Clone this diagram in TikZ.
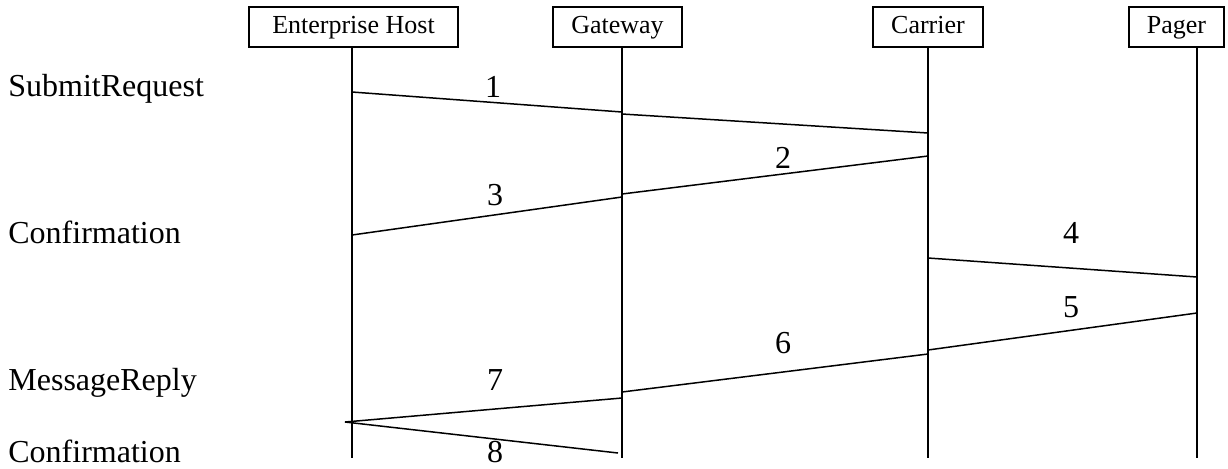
\documentclass[tikz,border=0pt]{standalone}
\usepackage{fontspec}
\setmainfont{Liberation Serif}

\tikzset{
  actor/.style={draw,line width=0.9pt,inner sep=0pt,minimum height=20pt,
    text height=9pt,text depth=3pt,font=\fontsize{13}{15}\selectfont},
  life/.style={line width=0.75pt},
  msg/.style={line width=0.75pt},
  num/.style={anchor=base,inner sep=0pt,font=\fontsize{16}{18}\selectfont},
  side/.style={anchor=base west,inner sep=0pt,font=\fontsize{16}{18}\selectfont}
}

\begin{document}
\begin{tikzpicture}[x=0.5pt,y=-0.5pt]
  \useasboundingbox (0,0) rectangle (1228,468);
  % the four parties
  \node[actor,minimum width=104.5pt] (eh) at (353.5,27) {Enterprise Host};
  \node[actor,minimum width=64.5pt] (gw) at (617.5,27) {Gateway};
  \node[actor,minimum width=55pt] (ca) at (928,27) {Carrier};
  \node[actor,minimum width=47.5pt] (pg) at (1176.5,27) {Pager};
  % lifelines
  \def\lbot{458}
  \coordinate (ehl) at (352,47);
  \coordinate (gwl) at (622,47);
  \coordinate (cal) at (928,47);
  \coordinate (pgl) at (1197,47);
  \foreach \l in {ehl,gwl,cal,pgl}
    \draw[life] (\l) -- (\l |- 0,\lbot);
  % messages
  \draw[msg] (ehl |- 0,92) -- (gwl |- 0,112);
  \draw[msg] (gwl |- 0,114) -- (cal |- 0,133);
  \draw[msg] (cal |- 0,156) -- (gwl |- 0,194);
  \draw[msg] (gwl |- 0,197) -- (ehl |- 0,235);
  \draw[msg] (cal |- 0,258) -- (pgl |- 0,277);
  \draw[msg] (pgl |- 0,313) -- (cal |- 0,350);
  \draw[msg] (cal |- 0,354) -- (gwl |- 0,392);
  \coordinate (back) at ([xshift=-3.5pt]ehl |- 0,422);
  \draw[msg] (gwl |- 0,398) -- (back);
  \draw[msg] (back) -- ([xshift=-2pt]gwl |- 0,453);
  % message numbers
  \node[num] (n1) at (493,97) {1};
  \node[num] (n2) at (783,168) {2};
  \node[num] (n3) at (495,205) {3};
  \node[num] (n4) at (1071,243) {4};
  \node[num] (n5) at (1071,317) {5};
  \node[num] (n6) at (783,353) {6};
  \node[num] (n7) at (495,390) {7};
  \node[num] (n8) at (495,462) {8};
  % operations on the left
  \node[side] (submit) at (8,96) {SubmitRequest};
  \node[side] (conf1) at (8,243) {Confirmation};
  \node[side] (reply) at (8,390) {MessageReply};
  \node[side] (conf2) at (8,462) {Confirmation};
\end{tikzpicture}
\end{document}
